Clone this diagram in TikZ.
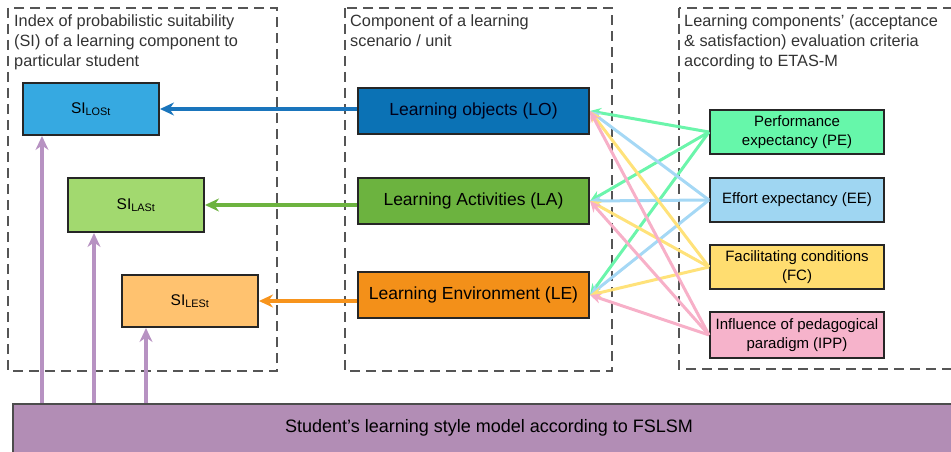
\documentclass[tikz,border=0pt]{standalone}
\usepackage{fontspec}
\setmainfont{Liberation Sans}
\usetikzlibrary{arrows.meta}
\definecolor{silo}{HTML}{36A9E1}
\definecolor{lo}{HTML}{0B72B5}
\definecolor{la}{HTML}{6CB33F}
\definecolor{sila}{HTML}{A2D96F}
\definecolor{le}{HTML}{F39019}
\definecolor{sile}{HTML}{FFC26F}
\definecolor{pe}{HTML}{66F7AA}
\definecolor{ee}{HTML}{9FD6F2}
\definecolor{fc}{HTML}{FFDD70}
\definecolor{ipp}{HTML}{F6B3CB}
\definecolor{bar}{HTML}{B28DB5}
\definecolor{barline}{HTML}{B792C2}
\definecolor{cpe}{HTML}{6BF5AB}
\definecolor{cee}{HTML}{A5D8F5}
\definecolor{cfc}{HTML}{FFE27A}
\definecolor{cipp}{HTML}{F7B0C8}
\definecolor{loarrow}{HTML}{1A75BC}
\definecolor{laarrow}{HTML}{6DB33F}
\definecolor{learrow}{HTML}{F7941D}
\definecolor{dashgray}{HTML}{555555}
\begin{document}
\begin{tikzpicture}[x=1pt,y=-1pt,
  group/.style={draw=dashgray, line width=2.2pt, dash pattern=on 10pt off 6pt},
  grouptitle/.style={anchor=north west, align=left, inner sep=0pt, text=black!80,
    font=\fontsize{16.3}{20}\selectfont},
  box/.style={draw=black!85, line width=2pt, inner sep=0pt, align=center, anchor=north west},
  sibox/.style={box, font=\fontsize{15.5}{18}\selectfont},
  compbox/.style={box, font=\fontsize{17.5}{20}\selectfont, minimum width=231pt, minimum height=46pt},
  critbox/.style={box, font=\fontsize{15}{19}\selectfont, minimum width=174pt, minimum height=44pt},
  conn/.style={line width=3pt, -{Stealth[length=11pt,width=10pt]}},
  mainarrow/.style={line width=3.5pt, -{Stealth[length=14pt,width=13pt]}},
  uparrow/.style={draw=barline, line width=3.5pt, -{Stealth[length=14pt,width=13pt]}}
]
\useasboundingbox (0,0) rectangle (951,452);
\clip (0,0) rectangle (951,452);

% dashed groups
\draw[group] (8,8) rectangle (277,371);
\draw[group] (345,8) rectangle (612,371);
\draw[group] (679,8) rectangle (975,369);

\node[grouptitle] (t1) at (14,14) {Index of probabilistic suitability\\(SI) of a learning component to\\particular student};
\node[grouptitle] (t2) at (350,14) {Component of a learning\\scenario / unit};
\node[grouptitle] (t3) at (684,14) {Learning components' (acceptance\\\& satisfaction) evaluation criteria\\according to ETAS-M};

% SI boxes
\node[sibox, fill=silo, minimum width=136pt, minimum height=52pt] (silo) at (22,82) {SI\textsubscript{LOSt}};
\node[sibox, fill=sila, minimum width=136pt, minimum height=54pt] (sila) at (67,177) {SI\textsubscript{LASt}};
\node[sibox, fill=sile, minimum width=136pt, minimum height=52pt] (sile) at (121,274) {SI\textsubscript{LESt}};

% components
\node[compbox, fill=lo, text=black!90!blue] (lo) at (357,87) {Learning objects (LO)};
\node[compbox, fill=la] (la) at (357,177) {Learning Activities (LA)};
\node[compbox, fill=le] (le) at (357,271) {Learning Environment (LE)};

% criteria
\node[critbox, fill=pe] (pe) at (709,109) {Performance\\expectancy (PE)};
\node[critbox, fill=ee] (ee) at (709,177) {Effort expectancy (EE)};
\node[critbox, fill=fc] (fc) at (709,244) {Facilitating conditions\\(FC)};
\node[critbox, fill=ipp, minimum height=46pt] (ipp) at (709,311) {Influence of pedagogical\\paradigm (IPP)};

% bottom bar
\node[box, fill=bar, minimum width=960pt, minimum height=52pt, draw=black!70] (fslsm) at (12,403) {};
\node[font=\fontsize{18}{20}\selectfont, anchor=center] (fslsmtext) at (489,428) {Student's learning style model according to FSLSM};

% criteria connectors
\foreach \c/\col in {pe/cpe, ee/cee, fc/cfc, ipp/cipp}{
  \foreach \t in {lo, la, le}{
    \draw[conn, draw=\col, fill=\col] (\c.west) -- (\t.east);
  }
}

% component -> SI
\draw[mainarrow, draw=loarrow, fill=loarrow] (lo.west |- silo.east) -- (silo.east);
\draw[mainarrow, draw=laarrow, fill=laarrow] (la.west |- sila.east) -- (sila.east);
\draw[mainarrow, draw=learrow, fill=learrow] (le.west |- sile.east) -- (sile.east);

% FSLSM -> SI
\coordinate (b1) at (42,403);
\coordinate (b2) at (94,403);
\coordinate (b3) at (146,403);
\draw[uparrow, fill=barline] (b1) -- (b1 |- silo.south);
\draw[uparrow, fill=barline] (b2) -- (b2 |- sila.south);
\draw[uparrow, fill=barline] (b3) -- (b3 |- sile.south);
\end{tikzpicture}
\end{document}
